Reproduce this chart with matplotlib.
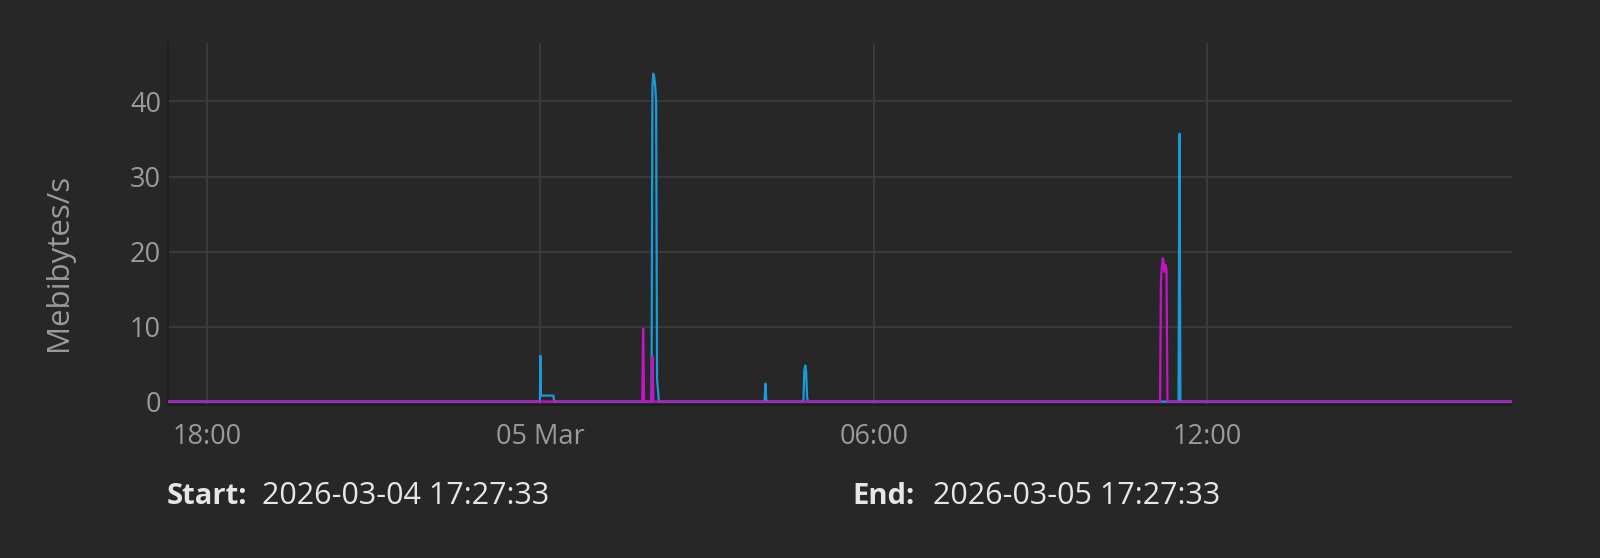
import pandas as pd
import matplotlib.pyplot as plt
import matplotlib.dates as mdates

plt.rcParams['font.family'] = ['Open Sans', 'DejaVu Sans']

# read-side throughput (blue), sampled points; zero elsewhere
blue_t = ['2026-03-04 17:18:00', '2026-03-04 23:59:30', '2026-03-05 00:00:00', '2026-03-05 00:00:40',
          '2026-03-05 00:14:00', '2026-03-05 00:15:00', '2026-03-05 02:00:00', '2026-03-05 02:01:00',
          '2026-03-05 02:02:00', '2026-03-05 02:03:00', '2026-03-05 02:04:00', '2026-03-05 02:05:00',
          '2026-03-05 02:06:00', '2026-03-05 02:08:00', '2026-03-05 04:02:00', '2026-03-05 04:03:00',
          '2026-03-05 04:04:00', '2026-03-05 04:44:00', '2026-03-05 04:45:00', '2026-03-05 04:46:00',
          '2026-03-05 04:47:00', '2026-03-05 04:48:00', '2026-03-05 04:49:00', '2026-03-05 11:29:00',
          '2026-03-05 11:30:00', '2026-03-05 11:31:00', '2026-03-05 17:29:00']
blue_v = [0, 0, 6.1, 0.8,
          0.8, 0, 0, 42.0,
          43.7, 43.2, 42.0, 40.0,
          3.0, 0, 0, 2.4,
          0, 0, 4.2, 4.8,
          3.9, 0.5, 0, 0,
          35.7, 0, 0]

# write-side throughput (purple)
purple_t = ['2026-03-04 17:18:00', '2026-03-05 01:50:00', '2026-03-05 01:51:00', '2026-03-05 01:52:00',
            '2026-03-05 02:00:00', '2026-03-05 02:01:00', '2026-03-05 02:02:00', '2026-03-05 11:09:00',
            '2026-03-05 11:10:00', '2026-03-05 11:11:00', '2026-03-05 11:12:00', '2026-03-05 11:13:00',
            '2026-03-05 11:14:00', '2026-03-05 11:15:00', '2026-03-05 11:16:00', '2026-03-05 11:17:00',
            '2026-03-05 17:29:00']
purple_v = [0, 0, 9.7, 0,
            0, 6.0, 0, 0,
            16.0, 18.0, 19.1, 18.5,
            17.3, 18.2, 17.6, 0,
            0]

tick_t = ['2026-03-04 18:00:00', '2026-03-05 00:00:00', '2026-03-05 06:00:00', '2026-03-05 12:00:00']
tick_labels = ['18:00', '05 Mar', '06:00', '12:00']
y_ticks = [0, 10, 20, 30, 40]

bg = '#272727'
grid_c = '#3d3d3d'
text_c = '#9a9a9a'

fig = plt.figure(figsize=(16, 5.58), dpi=100, facecolor=bg)
ax = fig.add_axes([0.105, 0.274, 0.84, 0.649])
ax.set_facecolor(bg)

ax.plot(pd.to_datetime(blue_t), blue_v, color='#1a9bd7', lw=1.6, zorder=3)
ax.plot(pd.to_datetime(purple_t), purple_v, color='#c414c8', lw=1.6, zorder=4)

ax.set_xlim(pd.Timestamp('2026-03-04 17:18'), pd.Timestamp('2026-03-05 17:29'))
ax.set_ylim(-0.47, 47.8)

ax.set_xticks(mdates.date2num(pd.to_datetime(tick_t)))
ax.set_xticklabels(tick_labels)
ax.set_yticks(y_ticks)
ax.grid(True, color=grid_c, lw=1.2)
ax.set_axisbelow(True)

for s in ['top', 'right']:
    ax.spines[s].set_visible(False)
for s in ['left', 'bottom']:
    ax.spines[s].set_color('#1c1c1c')
    ax.spines[s].set_linewidth(1.2)

ax.tick_params(axis='both', length=0, colors=text_c, labelsize=19.5)
ax.tick_params(axis='x', pad=13)
ax.tick_params(axis='y', pad=5)
ax.set_ylabel('Mebibytes/s', color=text_c, fontsize=22.5, va='center')
ax.yaxis.set_label_coords(-0.081, 0.395)

fig.text(0.104, 0.111, 'Start:', color='#e6e6e6', fontsize=21, fontweight='bold', va='center')
fig.text(0.164, 0.111, '2026-03-04 17:27:33', color='#e6e6e6', fontsize=22, va='center')
fig.text(0.533, 0.111, 'End:', color='#e6e6e6', fontsize=21, fontweight='bold', va='center')
fig.text(0.583, 0.111, '2026-03-05 17:27:33', color='#e6e6e6', fontsize=22, va='center')

fig.savefig('out.png', dpi=100, facecolor=bg)
